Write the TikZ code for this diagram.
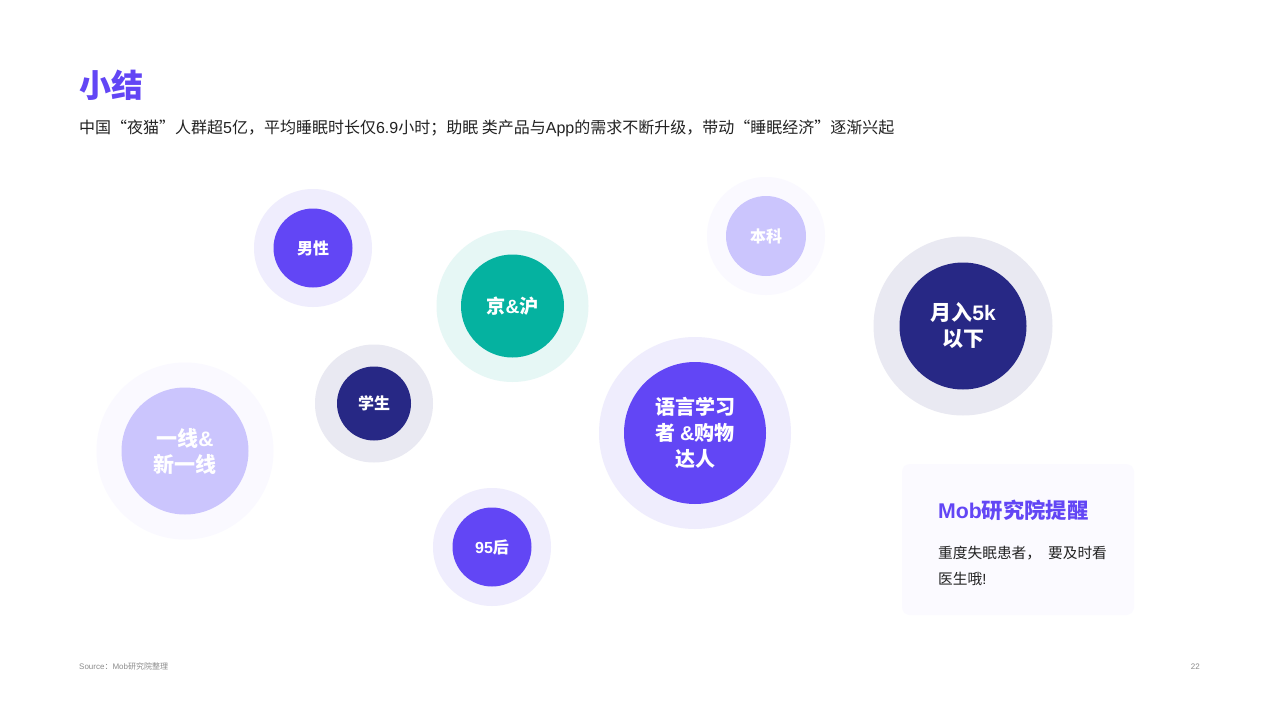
\documentclass[tikz,border=0pt]{standalone}
\usepackage{fontspec}
\setmainfont{Noto Sans CJK SC}
\newfontfamily\latn{Liberation Sans}
\newcommand{\lt}[1]{{\latn #1}}
\definecolor{violet}{HTML}{6246F5}
\definecolor{navy}{HTML}{272885}
\definecolor{teal}{HTML}{05B2A0}
\definecolor{lilac}{HTML}{CBC5FD}
\definecolor{violetHalo}{HTML}{EFEDFD}
\definecolor{navyHalo}{HTML}{E9E9F2}
\definecolor{tealHalo}{HTML}{E6F7F5}
\definecolor{lilacHalo}{HTML}{FAF9FF}
\definecolor{note}{HTML}{FBFAFF}
\definecolor{ink}{HTML}{222222}
\definecolor{muted}{HTML}{8C8C8C}
\tikzset{
  x=1pt,y=-1pt,
  halo/.style={circle,draw=none,inner sep=0pt},
  disc/.style={circle,draw=none,inner sep=0pt,text=white,align=center,font=\bfseries},
}
\begin{document}
\begin{tikzpicture}
\useasboundingbox (0,0) rectangle (1280,720);
\fill[white] (0,0) rectangle (1280,720);
\node[anchor=west,inner sep=0pt,text=violet,font=\fontsize{32}{36}\selectfont\bfseries] (title) at (79,85) {小结};
\node[anchor=west,inner sep=0pt,text=ink,font=\fontsize{16}{20}\selectfont] (sub) at (79,128.5) {中国“夜猫”人群超\lt{5}亿，平均睡眠时长仅\lt{6.9}小时；助眠 类产品与\lt{App}的需求不断升级，带动“睡眠经济”逐渐兴起};
% circles
\node[halo,fill=violetHalo,minimum size=118pt] (h1) at (313,248) {};
\node[disc,fill=violet,minimum size=79pt,font=\fontsize{16}{20}\selectfont\bfseries] (male) at (313,248) {男性};
\node[halo,fill=lilacHalo,minimum size=118pt] (h2) at (766,236) {};
\node[disc,fill=lilac,minimum size=80pt,font=\fontsize{16}{20}\selectfont\bfseries] (ben) at (766,236) {本科};
\node[halo,fill=tealHalo,minimum size=152pt] (h3) at (512.5,306) {};
\node[disc,fill=teal,minimum size=103pt,font=\fontsize{19.2}{24}\selectfont\bfseries] (jing) at (512.5,306) {京\lt{\&}沪};
\node[halo,fill=navyHalo,minimum size=118pt] (h4) at (374,403.5) {};
\node[disc,fill=navy,minimum size=74pt,font=\fontsize{16}{20}\selectfont\bfseries] (stu) at (374,403.5) {学生};
\node[halo,fill=lilacHalo,minimum size=177pt] (h5) at (185,451) {};
\node[disc,fill=lilac,minimum size=127pt,font=\fontsize{21}{26}\selectfont\bfseries] (city) at (185,451) {一线\lt{\&}\\新一线};
\node[halo,fill=violetHalo,minimum size=118pt] (h6) at (492,547) {};
\node[disc,fill=violet,minimum size=79pt,font=\fontsize{16}{20}\selectfont\bfseries] (gen) at (492,547) {\lt{95}后};
\node[halo,fill=violetHalo,minimum size=192pt] (h7) at (695,433) {};
\node[disc,fill=violet,minimum size=142pt,font=\fontsize{20}{26}\selectfont\bfseries] (lang) at (695,433) {语言学习\\者 \lt{\&}购物\\达人};
\node[halo,fill=navyHalo,minimum size=179pt] (h8) at (963,326) {};
\node[disc,fill=navy,minimum size=127pt,font=\fontsize{21}{26}\selectfont\bfseries] (inc) at (963,326) {月入\lt{5k}\\以下};
% note card
\node[draw=none,fill=note,rounded corners=8pt,minimum width=232pt,minimum height=151pt,inner sep=0pt] (card) at (1018,539.5) {};
\node[anchor=west,inner sep=0pt,text=violet,font=\fontsize{21.3}{26}\selectfont\bfseries] (cardt) at (938,510) {\lt{Mob}研究院提醒};
\node[anchor=west,inner sep=0pt,text=ink,font=\fontsize{14.7}{18}\selectfont] (l1) at (938,553) {重度失眠患者，\hspace{7pt}要及时看};
\node[anchor=west,inner sep=0pt,text=ink,font=\fontsize{14.7}{18}\selectfont] (l2) at (938,579) {医生哦\lt{!}};
% footer
\node[anchor=west,inner sep=0pt,text=muted,font=\fontsize{8}{10}\selectfont] (src) at (79,666) {\lt{Source}：\lt{Mob}研究院整理};
\node[anchor=east,inner sep=0pt,text=muted,font=\fontsize{8}{10}\selectfont\latn] (pg) at (1200,666.5) {22};
\end{tikzpicture}
\end{document}
